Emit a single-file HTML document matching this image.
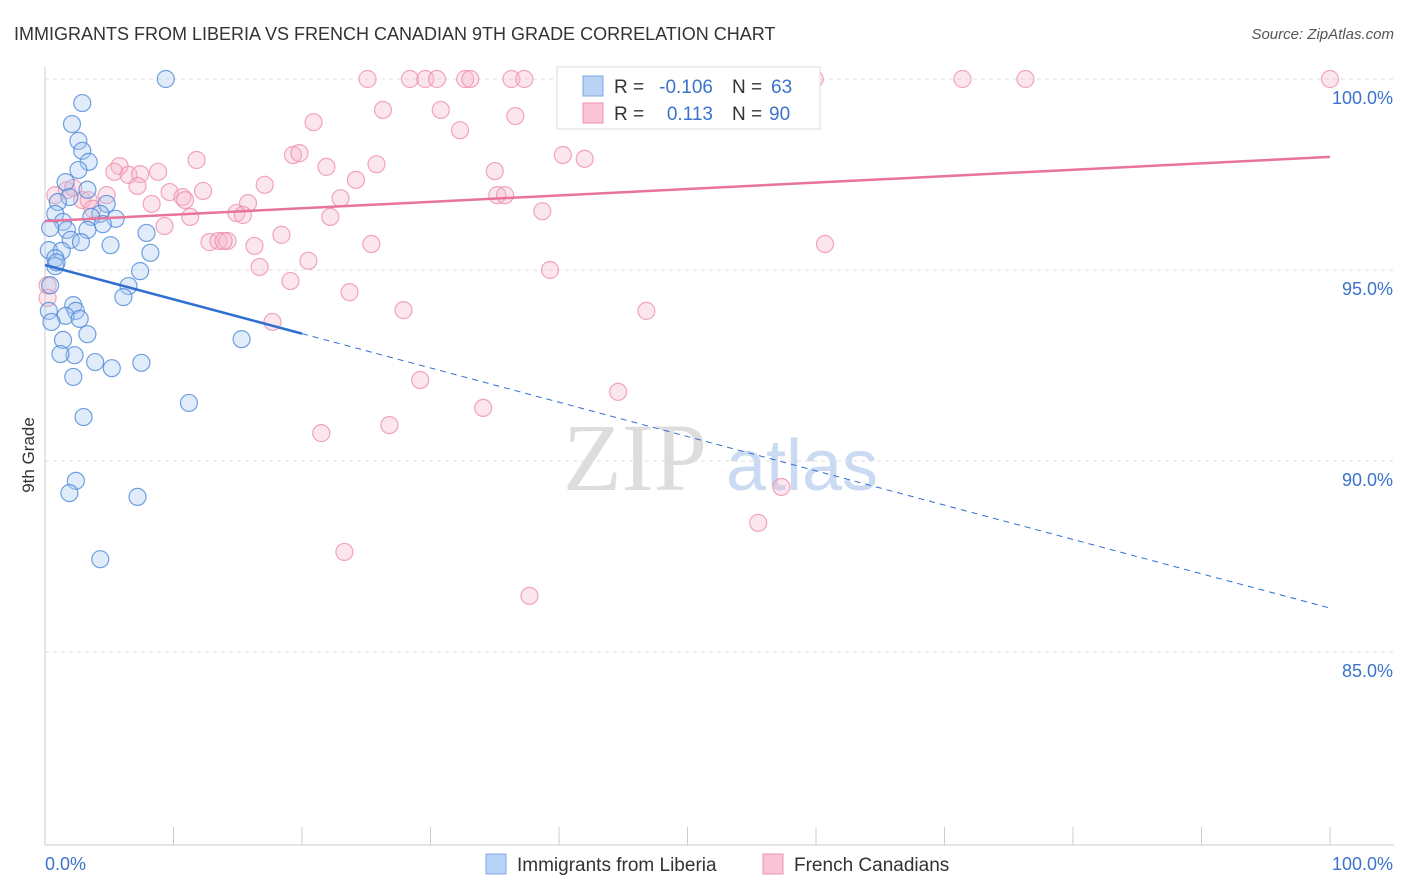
<!DOCTYPE html>
<html><head><meta charset="utf-8"><style>
body{margin:0;background:#fff;font-family:"Liberation Sans",sans-serif}
</style></head><body>
<svg id="c" width="1406" height="892" style="display:block">
<text x="14" y="40" font-size="18" fill="#333">IMMIGRANTS FROM LIBERIA VS FRENCH CANADIAN 9TH GRADE CORRELATION CHART</text>
<text x="1394" y="39" font-size="15" fill="#555" font-style="italic" text-anchor="end">Source: ZipAtlas.com</text>
<text x="34" y="455" font-size="17" fill="#333" transform="rotate(-90 34 455)" text-anchor="middle">9th Grade</text>
<g>
<text x="635" y="490" font-size="96" fill="#ddd" font-family="Liberation Serif,serif" text-anchor="middle">ZIP</text>
<text x="802" y="490" font-size="72" fill="#c9daf2" text-anchor="middle">atlas</text>
</g>
<g id="grid"></g><g id="pts"></g><g id="trend"></g>
<g>
<rect x="557" y="67" width="263" height="62" fill="#fff" stroke="#ddd"/>
<rect x="583" y="76" width="20" height="20" fill="#b8d3f5" stroke="#7aa6e0"/>
<rect x="583" y="103" width="20" height="20" fill="#f9c4d5" stroke="#ee92b0"/>
<text x="614" y="93" font-size="19" fill="#333">R =</text>
<text x="713" y="93" font-size="19" fill="#3b73cc" text-anchor="end">-0.106</text>
<text x="732" y="93" font-size="19" fill="#333">N =</text>
<text x="771" y="93" font-size="19" fill="#3b73cc">63</text>
<text x="614" y="120" font-size="19" fill="#333">R =</text>
<text x="713" y="120" font-size="19" fill="#3b73cc" text-anchor="end">0.113</text>
<text x="732" y="120" font-size="19" fill="#333">N =</text>
<text x="769" y="120" font-size="19" fill="#3b73cc">90</text>
</g>
<g>
<rect x="486" y="854" width="20" height="20" fill="#b8d3f5" stroke="#7aa6e0"/>
<text x="517" y="871" font-size="19" fill="#333">Immigrants from Liberia</text>
<rect x="763" y="854" width="20" height="20" fill="#f9c4d5" stroke="#ee92b0"/>
<text x="794" y="871" font-size="19" fill="#333">French Canadians</text>
</g>
</svg>
<script>
const yTicks=[100,95,90,85];
const yTickLabels=["100.0%","95.0%","90.0%","85.0%"];
const xEndLabels=["0.0%","100.0%"];
const blueX=[9.4,2.9,2.1,2.6,2.9,3.4,2.6,1.6,3.3,1.9,1.0,4.8,0.8,4.3,5.5,3.6,1.4,4.5,0.4,1.7,3.3,7.9,2.0,2.8,5.1,0.3,1.3,8.2,0.8,0.8,7.4,0.4,6.5,6.1,2.2,0.3,2.4,1.6,2.7,0.5,3.3,1.4,15.3,2.3,1.2,3.9,5.2,7.5,2.2,3.0,11.2,2.4,1.9,7.2,4.3,0.9];
const blueY=[100,99.37,98.82,98.38,98.12,97.83,97.62,97.3,97.1,96.91,96.78,96.73,96.47,96.47,96.34,96.39,96.26,96.2,96.1,96.05,96.05,95.97,95.79,95.73,95.65,95.52,95.5,95.45,95.31,95.1,94.97,94.6,94.58,94.29,94.08,93.93,93.93,93.8,93.72,93.64,93.32,93.17,93.19,92.77,92.8,92.59,92.43,92.57,92.2,91.15,91.52,89.48,89.16,89.06,87.43,95.2];
const pinkX=[25.1,28.4,29.6,30.5,32.7,33.1,36.3,37.3,47.8,59.9,71.4,76.3,100,26.3,30.8,20.9,36.6,32.3,40.3,42.0,11.8,19.3,19.8,21.9,25.8,35.0,5.8,5.4,6.5,7.4,8.8,17.1,24.2,1.7,7.2,4.8,9.7,12.3,10.7,10.9,23.0,35.2,35.8,2.9,3.4,8.3,15.8,14.9,15.4,22.2,38.7,11.3,9.3,3.7,18.4,12.8,13.5,14.2,16.3,25.4,60.7,20.5,16.7,39.3,19.1,23.7,27.9,46.8,17.7,29.2,44.6,34.1,21.5,26.8,57.3,55.5,23.3,37.7,0.8,0.2,0.2,2.2,13.9];
const pinkY=[100,100,100,100,100,100,100,100,100,100,100,100,100,99.19,99.19,98.87,99.03,98.66,98.01,97.91,97.88,98.01,98.06,97.7,97.77,97.59,97.72,97.57,97.49,97.51,97.57,97.23,97.36,97.09,97.2,96.96,97.04,97.07,96.91,96.83,96.88,96.96,96.96,96.83,96.83,96.73,96.75,96.49,96.44,96.39,96.54,96.39,96.15,96.6,95.92,95.73,95.76,95.76,95.63,95.68,95.68,95.24,95.08,95.0,94.71,94.42,93.95,93.93,93.64,92.12,91.81,91.39,90.73,90.94,89.32,88.38,87.62,86.47,96.96,94.6,94.27,97.15,95.76];
const blueTrend=[95.13,86.15];
const pinkTrend=[96.28,97.96];
const NS="http://www.w3.org/2000/svg";
const X=v=>45+v*12.85, Y=v=>79+(100-v)*38.2;
function mk(t,a,p){const e=document.createElementNS(NS,t);for(const k in a)e.setAttribute(k,a[k]);p.appendChild(e);return e;}
const g=document.getElementById('grid');
yTicks.forEach((t,i)=>{
 const l=mk('line',{x1:45,x2:1394,y1:Y(t),y2:Y(t),stroke:'#ddd','stroke-dasharray':'4,4'},g);
 
 
 const tx=mk('text',{x:1393,y:Y(t)+25,'font-size':18,fill:'#3b73cc','text-anchor':'end'},g);
 tx.textContent=yTickLabels[i];
 
 
});
const ax=mk('line',{x1:45,x2:45,y1:67,y2:845,stroke:'#ccc'},g);


const bx=mk('line',{x1:45,x2:1394,y1:845,y2:845,stroke:'#ccc'},g);


for(let i=0;i<=10;i++){
 const t=mk('line',{x1:X(i*10),x2:X(i*10),y1:827,y2:845,stroke:'#ccc'},g);
 
 
}
[[45,'start'],[1393,'end']].forEach((d,i)=>{
 const tx=mk('text',{x:d[0],y:870,'font-size':18,fill:'#3b73cc','text-anchor':d[1]},g);
 tx.textContent=xEndLabels[i];
 
 
});
const p=document.getElementById('pts');
function dots(xs,ys,fill,stroke,name){xs.forEach((x,i)=>{
 const c=mk('circle',{cx:X(x),cy:Y(ys[i]),r:8.5,fill:fill,'fill-opacity':0.35,stroke:stroke,'stroke-width':1.2,'stroke-opacity':0.8},p);
 
 
});}
dots(pinkX,pinkY,'#f7b6ca','#ee8fae','french-canadian-point');
dots(blueX,blueY,'#a9c8f0','#4f88d8','liberia-point');
const tr=document.getElementById('trend');
const pt=mk('line',{x1:X(0),y1:Y(pinkTrend[0]),x2:X(100),y2:Y(pinkTrend[1]),stroke:'#e8739b','stroke-width':2.5},tr);


const bAt=v=>blueTrend[0]+(blueTrend[1]-blueTrend[0])*v/100;
const b1=mk('line',{x1:X(0),y1:Y(bAt(0)),x2:X(20),y2:Y(bAt(20)),stroke:'#2f6fd0','stroke-width':2.5},tr);


const b2=mk('line',{x1:X(20),y1:Y(bAt(20)),x2:X(100),y2:Y(bAt(100)),stroke:'#2f6fd0','stroke-width':1,'stroke-dasharray':'6,5'},tr);


</script>
</body></html>
